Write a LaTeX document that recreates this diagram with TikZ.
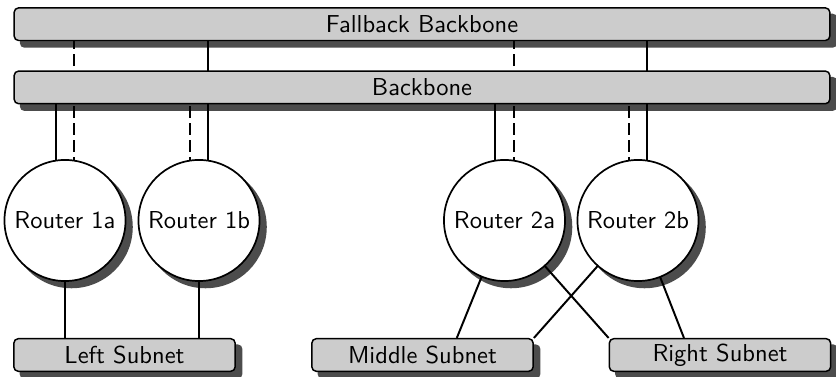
\documentclass[tikz,border=0pt]{standalone}
\usetikzlibrary{calc}
\pgfdeclarelayer{shadowlayer}
\pgfdeclarelayer{wirelayer}
\pgfsetlayers{shadowlayer,wirelayer,main}
\tikzset{
  bar/.style={draw, line width=0.6pt, fill=black!20, rounded corners=1.8pt,
    inner sep=0pt, font=\sffamily, minimum width=332.8pt, minimum height=13.3pt},
  subnet/.style={bar, minimum width=90.3pt},
  router/.style={draw, circle, line width=0.7pt, fill=white, inner sep=0pt,
    font=\sffamily, minimum size=49.4pt},
  wire/.style={line width=0.8pt},
  backupwire/.style={wire, dash pattern=on 4.8pt off 2.2pt},
  shadowfill/.style={fill=black!70},
}
\begin{document}
\begin{tikzpicture}[x=0.408pt, y=-0.408pt]
  \path[use as bounding box] (0,0) rectangle (836,377);

  % backbones
  \node[bar] (fb) at (422,24.2) {Fallback Backbone};
  \node[bar] (bb) at (422,87.4) {Backbone};

  % routers
  \node[router] (r1a) at (65,220.5)  {Router 1a};
  \node[router] (r1b) at (199,220.5) {Router 1b};
  \node[router] (r2a) at (504.5,220.5) {Router 2a};
  \node[router] (r2b) at (638,220.5) {Router 2b};

  % subnets
  \node[subnet] (left)  at (124.5,355) {Left Subnet};
  \node[subnet] (mid)   at (422.5,355) {Middle Subnet};
  \node[subnet] (right) at (720,355)   {Right Subnet};

  % drop shadows
  \begin{pgfonlayer}{shadowlayer}
    \foreach \n in {fb,bb,left,mid,right}
      \fill[shadowfill, rounded corners=1.8pt]
        ([shift={(6.5,6.5)}]\n.south west) rectangle ([shift={(6.5,6.5)}]\n.north east);
    \foreach \n in {r1a,r1b,r2a,r2b}
      \fill[shadowfill] ([shift={(6.5,6.5)}]\n.center) circle[radius=25pt];
  \end{pgfonlayer}

  % links
  \begin{pgfonlayer}{wirelayer}
    % router 1a
    \draw[wire]       ([xshift=-3.7pt]r1a.center) -- ([xshift=-3.7pt]r1a.center |- bb.center);
    \draw[backupwire] ([xshift=3.7pt]r1a.center)  -- ([xshift=3.7pt]r1a.center |- fb.center);
    % router 1b
    \draw[backupwire] ([xshift=-3.7pt]r1b.center) -- ([xshift=-3.7pt]r1b.center |- bb.center);
    \draw[wire]       ([xshift=3.7pt]r1b.center)  -- ([xshift=3.7pt]r1b.center |- fb.center);
    % router 2a
    \draw[wire]       ([xshift=-3.7pt]r2a.center) -- ([xshift=-3.7pt]r2a.center |- bb.center);
    \draw[backupwire] ([xshift=3.7pt]r2a.center)  -- ([xshift=3.7pt]r2a.center |- fb.center);
    % router 2b
    \draw[backupwire] ([xshift=-3.7pt]r2b.center) -- ([xshift=-3.7pt]r2b.center |- bb.center);
    \draw[wire]       ([xshift=3.7pt]r2b.center)  -- ([xshift=3.7pt]r2b.center |- fb.center);

    % routers to subnets
    \draw[wire] (r1a.center) -- (r1a.center |- left.center);
    \draw[wire] (r1b.center) -- (r1b.center |- left.center);
    \draw[wire] (r2a.center) -- ([xshift=14pt]mid.north);
    \draw[wire] (r2a.center) -- (right.north west);
    \draw[wire] (r2b.center) -- (mid.north east);
    \draw[wire] (r2b.center) -- ([xshift=-14.7pt]right.north);
  \end{pgfonlayer}
\end{tikzpicture}
\end{document}
